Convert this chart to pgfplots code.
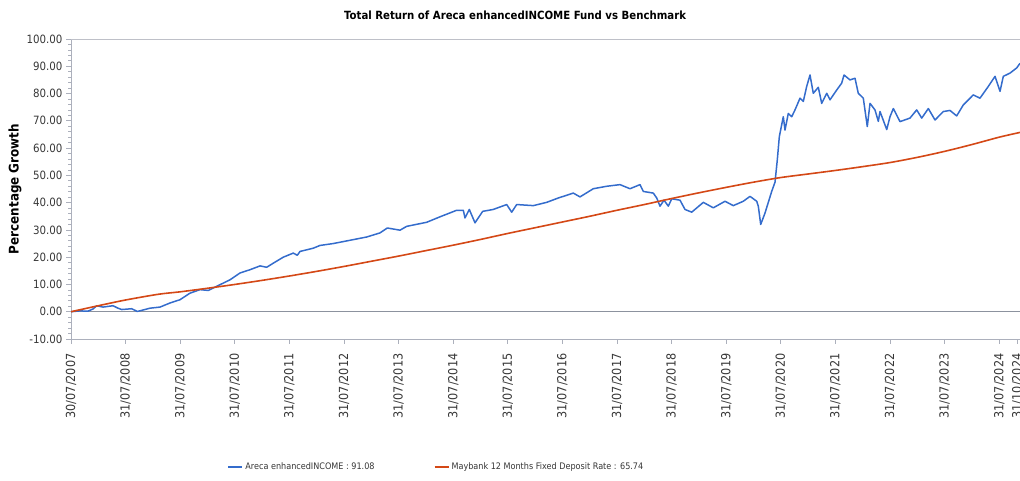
\documentclass[border=0pt]{standalone}
\usepackage{pgfplots}
\pgfplotsset{compat=1.18}
\usepackage{fontspec}
\setmainfont{DejaVuSansCondensed}[Extension=.ttf, BoldFont=DejaVuSansCondensed-Bold]
\definecolor{fundblue}{RGB}{52,108,204}
\definecolor{fdorange}{RGB}{212,72,22}
\definecolor{axgray}{RGB}{172,176,188}
\definecolor{topgray}{RGB}{190,192,200}
\definecolor{zerogray}{RGB}{140,146,158}
\definecolor{txtgray}{RGB}{55,55,55}
\begin{document}
\begin{tikzpicture}[x=1pt,y=1pt]
\useasboundingbox (0,0) rectangle (1020,481);
\begin{axis}[
  at={(71pt,142pt)}, anchor=south west,
  scale only axis, width=949pt, height=300pt,
  xmin=0, xmax=17.381, ymin=-10, ymax=100,
  axis x line*=bottom, axis y line*=left,
  axis line style={axgray, line width=0.8pt, -},
  tick style={axgray, line width=0.7pt},
  tick align=outside, major tick length=5pt, minor tick length=3pt,
  xtick={0,1,2,3,4,5,6,7,8,9,10,11,12,13,14,15,16,17,17.33},
  xticklabels={30/07/2007,31/07/2008,31/07/2009,31/07/2010,31/07/2011,31/07/2012,31/07/2013,31/07/2014,31/07/2015,31/07/2016,31/07/2017,31/07/2018,31/07/2019,31/07/2020,31/07/2021,31/07/2022,31/07/2023,31/07/2024,31/10/2024},
  xticklabel shift=6pt,
  x tick label style={rotate=90, anchor=east, font=\fontsize{12.5}{14}\selectfont, text=txtgray},
  ytick={-10,0,10,20,30,40,50,60,70,80,90,100},
  minor y tick num=4,
  y tick label style={font=\fontsize{11.4}{13}\selectfont, text=txtgray},
  yticklabel style={/pgf/number format/.cd, fixed, fixed zerofill, precision=2, assume math mode=true},
  title={Total Return of Areca enhancedINCOME Fund vs Benchmark},
  title style={at={(0.468,1.06)}, anchor=center, font=\bfseries\fontsize{11.3}{13}\selectfont},
  ylabel={Percentage Growth},
  ylabel style={at={(-0.059,0.5)}, anchor=center, font=\bfseries\fontsize{13.3}{15}\selectfont},
  legend columns=2,
  legend style={at={(0.385,-0.427)}, anchor=center, draw=none, font=\fontsize{9}{11}\selectfont, text=txtgray,
    /tikz/every even column/.append style={column sep=57pt}},
  legend image code/.code={\draw[#1, line width=2pt] (0pt,0pt) -- (14pt,0pt);},
]
\draw[topgray, line width=0.8pt] (axis cs:0,100) -- (axis cs:17.381,100);
\draw[zerogray, line width=0.8pt] (axis cs:0,0) -- (axis cs:17.381,0);
\addplot[fundblue, line width=1.5pt, line join=round] coordinates {
(0,0) (0.165,0.3) (0.311,0.2) (0.403,1.0) (0.471,2.2) (0.586,1.7) (0.769,2.2) (0.861,1.3) (0.929,0.8)
(1.112,1.1) (1.214,0.1) (1.295,0.5) (1.447,1.3) (1.630,1.7) (1.813,3.2) (1.996,4.4) (2.179,6.8)
(2.363,8.1) (2.515,7.8) (2.606,8.7) (2.789,10.5) (2.912,11.7) (3.095,14.2) (3.278,15.4) (3.462,16.8)
(3.584,16.3) (3.705,17.8) (3.888,20.0) (4.071,21.5) (4.145,20.7) (4.194,22.1) (4.438,23.3) (4.560,24.3)
(4.804,25.0) (5.110,26.2) (5.416,27.4) (5.659,28.9) (5.793,30.7) (6.026,29.9) (6.148,31.3) (6.515,32.8)
(6.758,34.8) (7.064,37.2) (7.185,37.2) (7.216,34.4) (7.295,37.5) (7.399,32.6) (7.540,36.8) (7.734,37.5)
(7.980,39.3) (8.071,36.5) (8.163,39.3) (8.467,38.9) (8.712,40.1) (8.925,41.7) (9.200,43.5) (9.322,42.1)
(9.566,45.1) (9.811,46.0) (10.055,46.6) (10.238,45.1) (10.421,46.6) (10.482,44.1) (10.665,43.5)
(10.727,41.7) (10.788,38.7) (10.861,40.9) (10.940,38.7) (11.002,41.4) (11.154,40.9) (11.245,37.5)
(11.368,36.5) (11.581,40.1) (11.764,38.1) (11.978,40.5) (12.130,38.9) (12.313,40.5) (12.436,42.3)
(12.559,40.5) (12.588,38.7) (12.632,32.0) (12.711,36.2) (12.833,44.1) (12.894,47.5) (12.936,55.7)
(12.973,64.2) (13.046,71.5) (13.077,66.6) (13.137,72.7) (13.200,71.5) (13.260,74.0) (13.352,78.3)
(13.412,77.1) (13.474,82.6) (13.535,86.8) (13.595,80.1) (13.687,82.3) (13.749,76.4) (13.841,80.1)
(13.901,77.7) (14.024,81.3) (14.115,83.8) (14.158,86.8) (14.267,85.0) (14.359,85.6) (14.419,80.1)
(14.511,78.3) (14.584,67.9) (14.634,76.4) (14.725,74.0) (14.786,69.8) (14.817,73.4) (14.940,66.8)
(15.000,71.5) (15.061,74.5) (15.183,69.7) (15.366,71.0) (15.489,74.0) (15.581,71.0) (15.702,74.5)
(15.824,70.3) (15.976,73.4) (16.099,73.8) (16.221,71.8) (16.342,75.8) (16.525,79.5) (16.648,78.3)
(16.800,82.6) (16.923,86.3) (17.015,80.8) (17.075,86.3) (17.198,87.5) (17.321,89.4) (17.381,91.08)
};
\addlegendentry{Areca enhancedINCOME : 91.08}
\addplot[fdorange, line width=1.6pt, smooth] coordinates {
(0,0) (0.5,2.2) (1,4.3) (1.6,6.4) (2,7.3) (2.5,8.6) (3,10.0) (3.5,11.5) (4,13.1) (4.5,14.8) (5,16.6)
(5.5,18.5) (6,20.4) (6.5,22.4) (7,24.4) (7.5,26.5) (8,28.7) (8.5,30.8) (9,32.9) (9.5,35.0) (10,37.2)
(10.5,39.3) (11,41.5) (11.5,43.6) (12,45.6) (12.5,47.5) (13,49.2) (13.5,50.5) (14,51.8) (14.5,53.2)
(15,54.7) (15.5,56.6) (16,58.8) (16.5,61.3) (17,64.0) (17.381,65.74)
};
\addlegendentry{Maybank 12 Months Fixed Deposit Rate : 65.74}
\end{axis}
\end{tikzpicture}
\end{document}
